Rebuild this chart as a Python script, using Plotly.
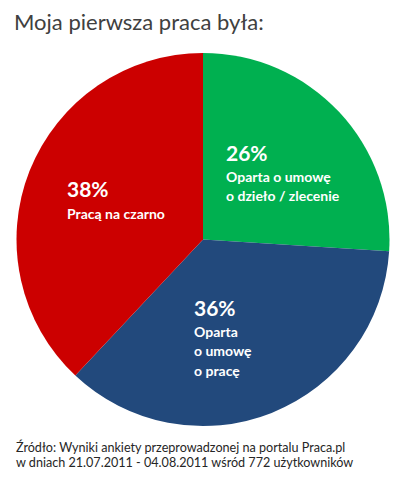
import plotly.graph_objects as go

# the page body has an 8px margin, so keep the figure inside the window
W, H = 391, 463
OFF = 8

# data
categories = ["Oparta o umowę o dzieło / zlecenie", "Oparta o umowę o pracę", "Pracą na czarno"]
values = [26, 36, 38]
colors = ["#00B050", "#22497C", "#CC0000"]
label_lines = [
    ["Oparta o umowę", "o dzieło / zlecenie"],
    ["Oparta", "o umowę", "o pracę"],
    ["Pracą na czarno"],
]
# label anchors in window pixels (left, centre of percent line)
label_pos = [(226, 152), (194, 307), (67, 189)]

title = "Moja pierwsza praca była:"
source_lines = [
    "Źródło: Wyniki ankiety przeprowadzonej na portalu Praca.pl",
    "w dniach 21.07.2011 - 04.08.2011 wśród 772 użytkowników",
]

FONT = "Lato"


def px(x, y):
    # window pixels -> paper coords
    return (x - OFF) / W, 1 - (y - OFF) / H


fig = go.Figure()
x0, y0 = px(16, 426)
x1, y1 = px(390, 53)
fig.add_trace(go.Pie(
    labels=categories,
    values=values,
    marker=dict(colors=colors, line=dict(width=0)),
    sort=False,
    direction="clockwise",
    rotation=0,
    textinfo="none",
    hoverinfo="label+percent",
    showlegend=False,
    domain=dict(x=[x0, x1], y=[y0, y1]),
))


def note(sx, sy, text, size, color, bold=False):
    x, y = px(sx, sy)
    return dict(
        x=x, y=y, xref="paper", yref="paper", xanchor="left", yanchor="middle",
        text=f"<b>{text}</b>" if bold else text, showarrow=False,
        font=dict(family=FONT, size=size, color=color),
    )


annotations = []
for v, lines, (lx, ly) in zip(values, label_lines, label_pos):
    annotations.append(note(lx - 2, ly, f"{v}%", 21, "white", True))
    for i, t in enumerate(lines):
        annotations.append(note(lx - 2, ly + 24 + 19.5 * i, t, 14, "white", True))

annotations.append(note(12, 22, title, 22, "#404040"))
for i, t in enumerate(source_lines):
    annotations.append(note(14, 447 + 15.5 * i, t, 12.6, "#262626"))

fig.update_layout(
    width=W, height=H,
    margin=dict(l=0, r=0, t=0, b=0),
    paper_bgcolor="white",
    plot_bgcolor="white",
    annotations=annotations,
)

fig.write_html("out.html")
